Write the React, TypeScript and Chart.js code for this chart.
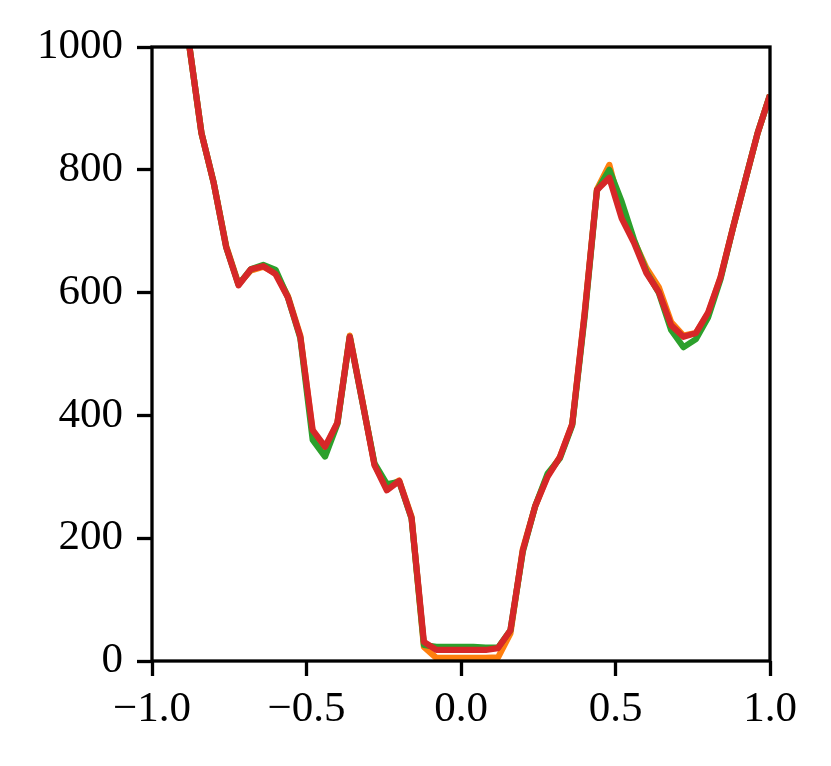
import React, { useEffect, useRef } from "react";
import { Chart, registerables } from "chart.js";

Chart.register(...registerables);

const xValues = [
  -1.0, -0.96, -0.92, -0.88, -0.84, -0.8, -0.76, -0.72, -0.68, -0.64, -0.6, -0.56, -0.52,
  -0.48, -0.44, -0.4, -0.36, -0.32, -0.28, -0.24, -0.2, -0.16, -0.12, -0.08, -0.04, 0.0,
  0.04, 0.08, 0.12, 0.16, 0.2, 0.24, 0.28, 0.32, 0.36, 0.4, 0.44, 0.48, 0.52, 0.56, 0.6,
  0.64, 0.68, 0.72, 0.76, 0.8, 0.84, 0.88, 0.92, 0.96, 1.0,
];

const orangeValues = [
  1420, 1280, 1140, 1005, 860, 778, 676, 614, 636, 642, 632, 594, 530,
  372, 346, 388, 530, 426, 320, 282, 294, 235, 23, 5, 5, 5,
  5, 5, 6, 45, 182, 252, 302, 332, 386, 566, 768, 808, 730, 684, 640,
  609, 552, 530, 534, 566, 625, 705, 783, 860, 922,
];

const greenValues = [
  1420, 1280, 1140, 1005, 860, 778, 674, 613, 638, 645, 637, 592, 526,
  360, 333, 386, 528, 424, 322, 288, 292, 232, 26, 23, 23, 23,
  23, 22, 22, 50, 178, 252, 305, 330, 384, 560, 766, 800, 748, 686, 634,
  600, 539, 511, 524, 560, 622, 705, 783, 860, 922,
];

const redValues = [
  1420, 1280, 1140, 1005, 860, 778, 674, 612, 638, 643, 630, 592, 528,
  376, 349, 388, 528, 425, 319, 278, 293, 233, 31, 18, 18, 18,
  18, 18, 21, 50, 180, 252, 300, 332, 386, 565, 767, 787, 721, 681, 632,
  601, 547, 528, 534, 568, 625, 705, 783, 860, 922,
];

const xTicks = [-1, -0.5, 0, 0.5, 1];
const yTicks = [0, 200, 400, 600, 800, 1000];

const toPoints = (ys: number[]) => xValues.map((x, i) => ({ x, y: ys[i] }));

const framePlugin = {
  id: "frame",
  afterDatasetsDraw(chart: any) {
    const { ctx, chartArea } = chart;
    ctx.save();
    ctx.strokeStyle = "#000";
    ctx.lineWidth = 3.3;
    ctx.strokeRect(
      chartArea.left,
      chartArea.top,
      chartArea.right - chartArea.left,
      chartArea.bottom - chartArea.top
    );
    ctx.restore();
  },
};

export default function App() {
  const ref = useRef<HTMLCanvasElement | null>(null);

  useEffect(() => {
    document.body.style.margin = "0";
    const font = { family: "'Liberation Serif', 'DejaVu Serif', serif", size: 43 };
    const ds = (label: string, color: string, ys: number[]) => ({
      label,
      data: toPoints(ys),
      borderColor: color,
      backgroundColor: color,
      borderWidth: 6.2,
      pointRadius: 0,
      fill: false,
      tension: 0,
      borderJoinStyle: "round" as const,
      borderCapStyle: "butt" as const,
    });
    const grid = {
      display: true,
      drawOnChartArea: false,
      drawTicks: true,
      tickLength: 15,
      tickWidth: 3.3,
      tickColor: "#000",
    };
    const chart = new Chart(ref.current!, {
      type: "line",
      data: {
        datasets: [
          ds("C3", "#d62728", redValues),
          ds("C2", "#2ca02c", greenValues),
          ds("C1", "#ff7f0e", orangeValues),
        ],
      },
      options: {
        animation: false,
        responsive: false,
        maintainAspectRatio: false,
        layout: { padding: { top: 47, right: 61, left: 0, bottom: 0 } },
        plugins: { legend: { display: false }, tooltip: { enabled: false } },
        scales: {
          x: {
            type: "linear",
            min: -1,
            max: 1,
            afterFit: (axis: any) => {
              axis.height = 105;
            },
            afterBuildTicks: (axis: any) => {
              axis.ticks = xTicks.map((v) => ({ value: v }));
            },
            ticks: {
              color: "#000",
              font,
              padding: 8,
              maxRotation: 0,
              autoSkip: false,
              callback: (v: any) => Number(v).toFixed(1).replace("-", "\u2212"),
            },
            grid,
            border: { display: false },
          },
          y: {
            type: "linear",
            min: 0,
            max: 1000,
            afterFit: (axis: any) => {
              axis.width = 152;
            },
            afterBuildTicks: (axis: any) => {
              axis.ticks = yTicks.map((v) => ({ value: v }));
            },
            ticks: {
              color: "#000",
              font,
              padding: 14,
              autoSkip: false,
              callback: (v: any) => String(v),
            },
            grid,
            border: { display: false },
          },
        },
      },
      plugins: [framePlugin],
    });
    return () => chart.destroy();
  }, []);

  return (
    <div style={{ width: 831, height: 766, background: "#fff" }}>
      <canvas ref={ref} width={831} height={766} style={{ width: 831, height: 766, display: "block" }} />
    </div>
  );
}
